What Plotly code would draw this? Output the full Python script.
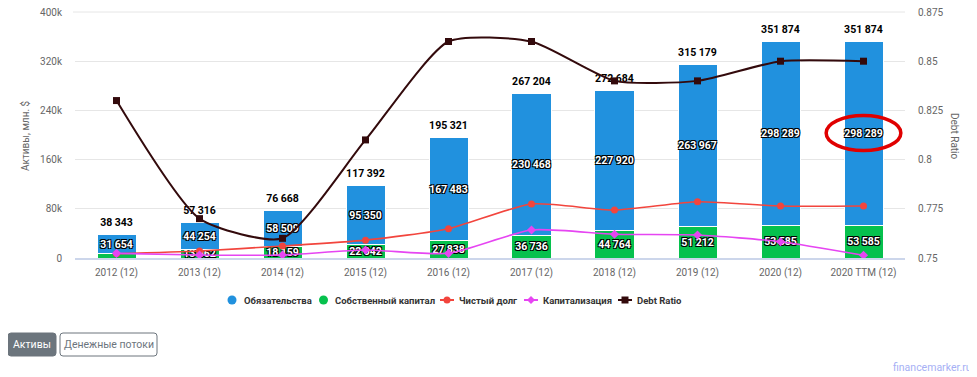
import plotly.graph_objects as go

categories = ["2012 (12)", "2013 (12)", "2014 (12)", "2015 (12)", "2016 (12)",
              "2017 (12)", "2018 (12)", "2019 (12)", "2020 (12)", "2020 TTM (12)"]
liabilities = [31654, 44254, 58509, 95350, 167483, 230468, 227920, 263967, 298289, 298289]
equity = [6689, 13062, 18159, 22042, 27838, 36736, 44764, 51212, 53585, 53585]
totals = [38343, 57316, 76668, 117392, 195321, 267204, 272684, 315179, 351874, 351874]
net_debt = [7000, 11400, 19500, 29000, 47600, 87800, 78000, 91500, 84500, 84500]
market_cap = [7600, 5000, 5000, 13000, 7600, 45600, 38600, 37400, 26500, 4400]
debt_ratio = [0.83, 0.77, 0.76, 0.81, 0.86, 0.86, 0.84, 0.84, 0.85, 0.85]

# page geometry (browser body has an 8px margin)
OX, OY = 8, 8
W, H = 977 - OX, 377 - OY
PL, PR, PT, PB = 75, 905, 12, 258          # plot area in screen pixels
L, R, T, B = PL - OX, 977 - PR, PT - OY, 377 - PB
PW, PH = PR - PL, PB - PT


def px(x):
    return (x - PL) / PW


def py(y):
    return (PB - y) / PH


def fmt(v):
    return f"{v:,}".replace(",", " ")


FONT = "Roboto, Liberation Sans, Arial, sans-serif"
OUTLINE = "1px 1px 0 #000, -1px -1px 0 #000, 1px -1px 0 #000, -1px 1px 0 #000"
OUTLINE_W = "1px 1px 0 #fff, -1px -1px 0 #fff, 1px -1px 0 #fff, -1px 1px 0 #fff"
C_BLUE = "#2191de"
C_GREEN = "#06c14d"
C_RED = "#f2453d"
C_PINK = "#e645f2"
C_DR = "#330a0c"
C_GRID = "#e6e6e6"

eq_text = [fmt(v) for v in equity]
eq_text[0] = ""

fig = go.Figure()

fig.add_trace(go.Bar(
    x=categories, y=equity, marker=dict(color=C_GREEN, line=dict(color="#ffffff", width=1)),
    text=eq_text, textposition="inside", insidetextanchor="middle", textangle=0,
    constraintext="none", cliponaxis=False,
    textfont=dict(color="white", size=10.5, family=FONT, weight="bold", shadow=OUTLINE),
    showlegend=False, hoverinfo="y", name="Собственный капитал"))
fig.add_trace(go.Bar(
    x=categories, y=liabilities, marker=dict(color=C_BLUE, line=dict(color="#ffffff", width=1)),
    text=[fmt(v) for v in liabilities], textposition="inside", insidetextanchor="middle",
    textangle=0, constraintext="none", cliponaxis=False,
    textfont=dict(color="white", size=10.5, family=FONT, weight="bold", shadow=OUTLINE),
    showlegend=False, hoverinfo="y", name="Обязательства"))

fig.add_trace(go.Scatter(
    x=categories, y=totals, mode="markers+text", text=[fmt(v) for v in totals],
    textposition="top center", cliponaxis=False,
    marker=dict(size=8, color="rgba(0,0,0,0)"),
    textfont=dict(color="black", size=10.5, family=FONT, weight="bold", shadow=OUTLINE_W),
    showlegend=False, hoverinfo="skip"))

fig.add_trace(go.Scatter(
    x=categories, y=net_debt, mode="lines+markers", name="Чистый долг",
    line=dict(color=C_RED, width=1.6, shape="spline", smoothing=0.6),
    marker=dict(symbol="circle", size=7, color=C_RED), cliponaxis=False, showlegend=False))
fig.add_trace(go.Scatter(
    x=categories, y=market_cap, mode="lines+markers", name="Капитализация",
    line=dict(color=C_PINK, width=1.6, shape="spline", smoothing=0.6),
    marker=dict(symbol="diamond", size=7, color=C_PINK), cliponaxis=False, showlegend=False))
fig.add_trace(go.Scatter(
    x=categories, y=debt_ratio, mode="lines+markers", name="Debt Ratio", yaxis="y2",
    line=dict(color=C_DR, width=2, shape="spline", smoothing=0.6),
    marker=dict(symbol="square", size=7, color=C_DR), cliponaxis=False, showlegend=False))

# highlight ellipse
fig.add_shape(type="circle", xref="x", yref="y", x0=8.55, x1=9.45, y0=174700, y1=231700,
              line=dict(color="#e00000", width=3.5))

shapes = []
annos = []

# top grid line (plotly drops the grid line lying on the plot edge)
shapes.append(dict(type="line", xref="paper", yref="paper", x0=px(73), x1=1, y0=1, y1=1,
                   line=dict(color=C_GRID, width=1), layer="below"))


def rrect(x0, y0, x1, y1, r, fill, line):
    p = (f"M {px(x0 + r)},{py(y0)} L {px(x1 - r)},{py(y0)} Q {px(x1)},{py(y0)} {px(x1)},{py(y0 + r)} "
         f"L {px(x1)},{py(y1 - r)} Q {px(x1)},{py(y1)} {px(x1 - r)},{py(y1)} "
         f"L {px(x0 + r)},{py(y1)} Q {px(x0)},{py(y1)} {px(x0)},{py(y1 - r)} "
         f"L {px(x0)},{py(y0 + r)} Q {px(x0)},{py(y0)} {px(x0 + r)},{py(y0)} Z")
    shapes.append(dict(type="path", xref="paper", yref="paper", path=p, fillcolor=fill,
                       line=dict(color=line, width=1), layer="above"))


# buttons
rrect(8, 333, 56, 356, 3, "#6c757d", "#6c757d")
rrect(60, 333, 157, 356, 3, "#ffffff", "#6c757d")
annos += [
    dict(text="Активы", x=px(32), y=py(345), xanchor="center",
         font=dict(color="white", size=10.5, family=FONT)),
    dict(text="Денежные потоки", x=px(108.5), y=py(345), xanchor="center",
         font=dict(color="#6c757d", size=10.5, family=FONT)),
    dict(text="financemarker.ru", x=px(974), y=py(367), xanchor="right",
         font=dict(color="#a6b0f5", size=10.5, family=FONT)),
    dict(text="Активы, млн. $", x=px(25), y=py(136), xanchor="center", textangle=-90,
         font=dict(color="#666666", size=10, family=FONT)),
    dict(text="Debt Ratio", x=px(955), y=py(136), xanchor="center", textangle=90,
         font=dict(color="#666666", size=10, family=FONT)),
]

# legend (drawn manually to match the reference layout)
LY = 300
legend_items = [
    ("Обязательства", C_BLUE, "circle", 232, 241.5),
    ("Собственный капитал", C_GREEN, "circle", 323.5, 333),
    ("Чистый долг", C_RED, "line-circle", 447, 457),
    ("Капитализация", C_PINK, "line-diamond", 531, 541),
    ("Debt Ratio", C_DR, "line-square", 625, 635),
]
for name, col, kind, mx, tx in legend_items:
    if kind == "circle":
        shapes.append(dict(type="circle", xref="paper", yref="paper", x0=px(mx - 4.5), x1=px(mx + 4.5),
                           y0=py(LY + 4.5), y1=py(LY - 4.5), fillcolor=col, line=dict(width=0)))
    else:
        shapes.append(dict(type="line", xref="paper", yref="paper", x0=px(mx - 7), x1=px(mx + 7),
                           y0=py(LY), y1=py(LY), line=dict(color=col, width=2)))
        if kind == "line-circle":
            shapes.append(dict(type="circle", xref="paper", yref="paper", x0=px(mx - 3.5), x1=px(mx + 3.5),
                               y0=py(LY + 3.5), y1=py(LY - 3.5), fillcolor=col, line=dict(width=0)))
        elif kind == "line-diamond":
            p = (f"M {px(mx)},{py(LY - 4)} L {px(mx + 4)},{py(LY)} L {px(mx)},{py(LY + 4)} "
                 f"L {px(mx - 4)},{py(LY)} Z")
            shapes.append(dict(type="path", xref="paper", yref="paper", path=p, fillcolor=col,
                               line=dict(width=0)))
        else:
            shapes.append(dict(type="rect", xref="paper", yref="paper", x0=px(mx - 3.5), x1=px(mx + 3.5),
                               y0=py(LY + 3.5), y1=py(LY - 3.5), fillcolor=col, line=dict(width=0)))
    annos.append(dict(text=name, x=px(tx), y=py(LY), xanchor="left",
                      font=dict(color="#333333", size=9.5, family=FONT, weight="bold")))

for a in annos:
    a.update(xref="paper", yref="paper", yanchor="middle", showarrow=False)
for s in shapes:
    fig.add_shape(**s)
fig.update_layout(annotations=annos)

fig.update_layout(
    width=W, height=H, margin=dict(l=L, r=R, t=T, b=B, autoexpand=False),
    paper_bgcolor="white", plot_bgcolor="white",
    barmode="stack", bargap=0.53,
    font=dict(family=FONT, color="#666666", size=10),
    showlegend=False,
    xaxis=dict(type="category", range=[-0.5, 9.5], showgrid=False, showline=True,
               linecolor="#ccd6eb", linewidth=1.5,
               ticks="", tickfont=dict(size=10, color="#666666"), ticklabelstandoff=4),
    yaxis=dict(range=[0, 400000], dtick=80000, tickformat="~s", showgrid=True, gridcolor=C_GRID,
               gridwidth=1, zeroline=False, ticks="", ticklabelstandoff=12, ticklabeloverflow="allow",
               tickfont=dict(size=10, color="#666666")),
    yaxis2=dict(range=[0.75, 0.875], dtick=0.025, overlaying="y", side="right", showgrid=False,
                zeroline=False, ticks="", ticklabelstandoff=12, ticklabeloverflow="allow",
                tickfont=dict(size=10, color="#666666")),
)

fig.write_html("out.html")
